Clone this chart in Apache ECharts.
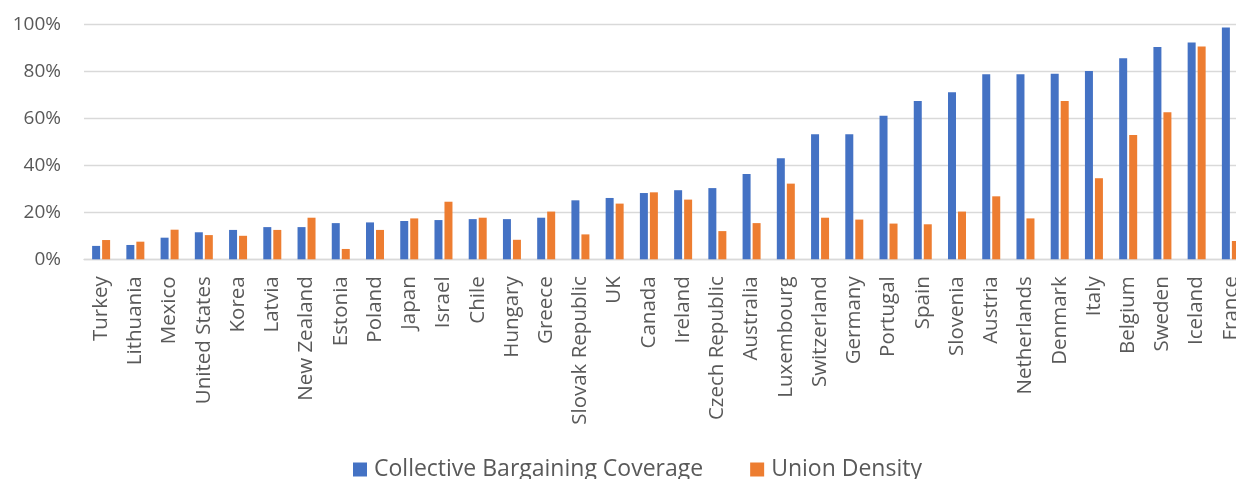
<!DOCTYPE html>
<html>
<head>
<meta charset="utf-8">
<script src="https://cdn.jsdelivr.net/npm/echarts@6/dist/echarts.min.js"></script>
<style>
  html, body { margin: 0; padding: 0; background: #fff; overflow: hidden; }
  /* the plot runs slightly past the right edge of the window, so the last column is clipped */
  #chart { width: 1248px; height: 479px; }
</style>
</head>
<body>
<div id="chart"></div>
<script>
// OECD countries ordered by collective bargaining coverage
const countries = [
  'Turkey', 'Lithuania', 'Mexico', 'United States', 'Korea', 'Latvia', 'New Zealand',
  'Estonia', 'Poland', 'Japan', 'Israel', 'Chile', 'Hungary', 'Greece', 'Slovak Republic',
  'UK', 'Canada', 'Ireland', 'Czech Republic', 'Australia', 'Luxembourg', 'Switzerland',
  'Germany', 'Portugal', 'Spain', 'Slovenia', 'Austria', 'Netherlands', 'Denmark', 'Italy',
  'Belgium', 'Sweden', 'Iceland', 'France'
];

// Share of employees, in percent
const bargainingCoverage = [
  5.7, 6.1, 9.2, 11.5, 12.5, 13.7, 13.7, 15.4, 15.7, 16.3, 16.7, 17.1, 17.1, 17.7, 25.1,
  26.1, 28.2, 29.4, 30.3, 36.3, 43.0, 53.2, 53.2, 61.1, 67.4, 71.1, 78.7, 78.7, 79.0, 80.1,
  85.5, 90.3, 92.3, 98.6
];
const unionDensity = [
  8.2, 7.5, 12.6, 10.3, 10.0, 12.5, 17.7, 4.4, 12.5, 17.4, 24.5, 17.7, 8.3, 20.3, 10.6,
  23.7, 28.5, 25.4, 12.0, 15.4, 32.2, 17.7, 16.9, 15.2, 14.9, 20.3, 26.8, 17.4, 67.4, 34.5,
  52.9, 62.6, 90.6, 7.8
];

const yTicks = { min: 0, max: 100, interval: 20 };

const FONT = '"Open Sans", "DejaVu Sans", sans-serif';
const GREY = '#595959';

const chart = echarts.init(document.getElementById('chart'), null, { renderer: 'canvas' });

chart.setOption({
  animation: false,
  backgroundColor: '#ffffff',
  textStyle: { fontFamily: FONT },
  grid: {
    left: 84,
    top: 24.3,
    right: 0,
    bottom: 219.7,
    containLabel: false
  },
  legend: {
    left: 353,
    top: 458,
    padding: 0,
    itemWidth: 14,
    itemHeight: 14,
    itemGap: 47,
    icon: 'rect',
    textStyle: { fontFamily: FONT, fontSize: 23, color: GREY, padding: [0, 0, 0, 2] },
    data: ['Collective Bargaining Coverage', 'Union Density']
  },
  xAxis: {
    type: 'category',
    data: countries,
    boundaryGap: true,
    axisLine: { show: true, lineStyle: { color: '#d9d9d9', width: 1.4 } },
    axisTick: { show: false },
    axisLabel: {
      rotate: 90,
      interval: 0,
      margin: 17,
      fontFamily: FONT,
      fontSize: 20.5,
      color: GREY
    }
  },
  yAxis: {
    type: 'value',
    min: yTicks.min,
    max: yTicks.max,
    interval: yTicks.interval,
    axisLine: { show: false },
    axisTick: { show: false },
    splitLine: { lineStyle: { color: '#d9d9d9', width: 1.4 } },
    axisLabel: {
      formatter: '{value}%',
      margin: 23,
      fontFamily: FONT,
      fontSize: 19,
      color: GREY
    }
  },
  series: [
    {
      name: 'Collective Bargaining Coverage',
      type: 'bar',
      data: bargainingCoverage,
      barWidth: 8,
      barGap: '25%',
      itemStyle: { color: '#4472C4' }
    },
    {
      name: 'Union Density',
      type: 'bar',
      data: unionDensity,
      barWidth: 8,
      barGap: '25%',
      itemStyle: { color: '#ED7D31' }
    }
  ]
});
</script>
</body>
</html>
